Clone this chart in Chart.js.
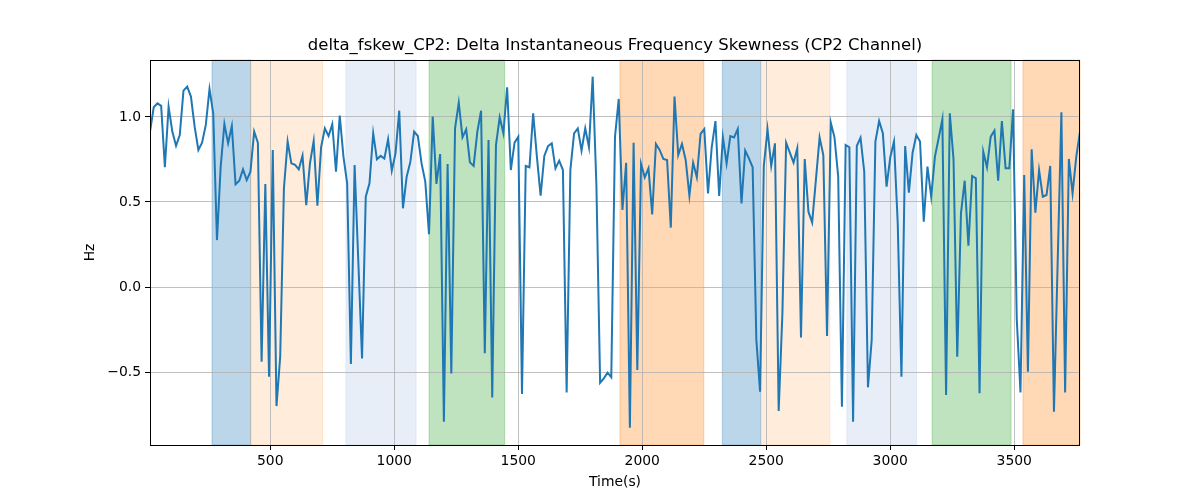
<!DOCTYPE html>
<html>
<head>
<meta charset="utf-8">
<title>delta_fskew_CP2</title>
<script src="https://cdn.jsdelivr.net/npm/chart.js@4.4.0/dist/chart.umd.min.js"></script>
<style>
  html, body { margin: 0; padding: 0; background: #fff; }
  #chartSkew { display: block; }
</style>
</head>
<body>
<canvas id="chartSkew" width="1200" height="500"></canvas>
<script>
// data ---------------------------------------------------------------------
// one sample every 15 s, first sample at 15 s
const sampleStart = 15;
const sampleStep = 15;

const skewValues = [
  0.914, 1.057, 1.08, 1.065, 0.704, 1.06, 0.914, 0.83, 0.894, 1.155, 1.178, 1.12, 0.943, 0.806, 0.849, 0.953,
  1.165, 1.02, 0.276, 0.708, 0.959, 0.845, 0.947, 0.604, 0.625, 0.692, 0.629, 0.678, 0.914, 0.849, -0.439, 0.606,
  -0.527, 0.806, -0.7, -0.41, 0.58, 0.855, 0.727, 0.718, 0.692, 0.773, 0.482, 0.727, 0.859, 0.478, 0.822, 0.933,
  0.888, 0.957, 0.678, 1.008, 0.767, 0.61, -0.453, 0.718, 0.15, -0.42, 0.531, 0.61, 0.904, 0.751, 0.771,
  0.755, 0.869, 0.684, 0.786, 1.037, 0.463, 0.649, 0.737, 0.914, 0.888, 0.727, 0.62, 0.31, 1.002, 0.606, 0.782,
  -0.792, 0.724, -0.508, 0.933, 1.084, 0.88, 0.927, 0.733, 0.712, 0.914, 1.037, -0.39, 0.865, -0.649, 0.835, 0.998,
  0.904, 1.175, 0.688, 0.849, 0.884, -0.629, 0.712, 0.704, 1.022, 0.767, 0.537, 0.771, 0.829, 0.845, 0.698, 0.743,
  0.688, -0.62, 0.688, 0.904, 0.933, 0.802, 0.933, 0.822, 1.237, 0.6, -0.563, -0.537, -0.504, -0.531, 0.884,
  1.106, 0.453, 0.731, -0.827, 0.849, -0.488, 0.724, 0.645, 0.698, 0.427, 0.841, 0.806, 0.753, 0.747, 0.349, 1.12,
  0.776, 0.841, 0.747, 0.537, 0.731, 0.645, 0.9, 0.929, 0.551, 0.822, 0.976, 0.535, 0.88, 0.727, 0.888,
  0.88, 0.929, 0.492, 0.802, 0.757, 0.704, -0.312, -0.616, 0.712, 0.927, 0.712, 0.845, -0.729, -0.155, 0.849, 0.79,
  0.731, 0.816, -0.296, 0.753, 0.443, 0.38, 0.629, 0.88, 0.776, -0.288, 0.967, 0.88, 0.649, -0.704, 0.835,
  0.822, -0.792, 0.829, 0.878, 0.678, -0.59, -0.312, 0.855, 0.976, 0.904, 0.59, 0.763, 0.855, 0.375, -0.527, 0.829,
  0.555, 0.79, 0.894, 0.855, 0.384, 0.708, 0.531, 0.767, 0.875, 0.986, -0.635, 1.022, 0.751, -0.41, 0.433,
  0.625, 0.243, 0.653, 0.639, -0.625, 0.796, 0.704, 0.884, 0.92, 0.625, 0.976, 0.698, 0.698, 1.045, -0.19, -0.62,
  0.659, -0.498, 0.81, 0.437, 0.688, 0.531, 0.541, 0.712, -0.733, 0.15, 1.027, -0.62, 0.753, 0.551, 0.767, 0.914
];

// shaded time windows
const bandStart = [265, 421, 805, 1140, 1910, 2323, 2480, 2825, 3169, 3535];
const bandEnd   = [421, 711, 1088, 1445, 2248, 2477, 2756, 3106, 3487, 3765];
const bandColor = [
  'rgba(31, 119, 180, 0.3)',
  'rgba(255, 127, 14, 0.15)',
  'rgba(174, 199, 232, 0.3)',
  'rgba(44, 160, 44, 0.3)',
  'rgba(255, 127, 14, 0.3)',
  'rgba(31, 119, 180, 0.3)',
  'rgba(255, 127, 14, 0.15)',
  'rgba(174, 199, 232, 0.3)',
  'rgba(44, 160, 44, 0.3)',
  'rgba(255, 127, 14, 0.3)'
];

const xTicks = [500, 1000, 1500, 2000, 2500, 3000, 3500];
const yTicks = [-0.5, 0.0, 0.5, 1.0];
const xRange = [15, 3765];
const yRange = [-0.929, 1.335];

const titleText = 'delta_fskew_CP2: Delta Instantaneous Frequency Skewness (CP2 Channel)';

// chart ---------------------------------------------------------------------
const fontFamily = '"DejaVu Sans", sans-serif';

const points = skewValues.map(function (v, i) {
  return { x: sampleStart + i * sampleStep, y: v };
});

// vertical spans, drawn before the grid
const bandsPlugin = {
  id: 'bands',
  beforeDraw(chart) {
    const ctx = chart.ctx;
    const area = chart.chartArea;
    const x = chart.scales.x;
    ctx.save();
    for (let i = 0; i < bandStart.length; i++) {
      const x1 = x.getPixelForValue(bandStart[i]);
      const x2 = Math.min(x.getPixelForValue(bandEnd[i]), area.right);
      ctx.fillStyle = bandColor[i];
      ctx.fillRect(x1, area.top, x2 - x1, area.bottom - area.top);
      ctx.strokeStyle = bandColor[i];
      ctx.lineWidth = 1;
      ctx.strokeRect(x1, area.top, x2 - x1, area.bottom - area.top);
    }
    ctx.restore();
  },
  afterDraw(chart) {
    const ctx = chart.ctx;
    const area = chart.chartArea;
    ctx.save();
    // frame on four sides
    ctx.strokeStyle = '#000';
    ctx.lineWidth = 1;
    ctx.strokeRect(area.left + 0.5, area.top + 0.5, area.right - area.left - 1, area.bottom - area.top);
    // title over the axes
    ctx.fillStyle = '#000';
    ctx.font = '16.5px ' + fontFamily;
    ctx.textAlign = 'center';
    ctx.textBaseline = 'middle';
    ctx.fillText(titleText, (area.left + area.right) / 2, 46);
    ctx.restore();
  }
};

const configSkew = {
  type: 'line',
  data: {
    datasets: [{
      label: 'delta_fskew_CP2',
      data: points,
      borderColor: '#1f77b4',
      borderWidth: 2,
      pointRadius: 0,
      tension: 0,
      fill: false
    }]
  },
  options: {
    responsive: false,
    animation: false,
    devicePixelRatio: 1,
    parsing: false,
    layout: { padding: { left: 82, right: 120, top: 60, bottom: 0 } },
    plugins: {
      legend: { display: false },
      tooltip: { enabled: false },
      title: { display: false }
    },
    scales: {
      x: {
        type: 'linear',
        min: xRange[0],
        max: xRange[1],
        afterBuildTicks(scale) { scale.ticks = xTicks.map(v => ({ value: v })); },
        afterFit(scale) { scale.height = 55; },
        border: { display: false },
        grid: { color: '#b0b0b0', lineWidth: 0.8, tickColor: '#000', tickLength: 5, tickWidth: 1 },
        ticks: {
          color: '#000',
          padding: 3,
          maxRotation: 0,
          font: { family: fontFamily, size: 13.9 },
          callback: v => String(v)
        },
        title: {
          display: true,
          text: 'Time(s)',
          color: '#000',
          font: { family: fontFamily, size: 13.9 },
          padding: { top: 0, bottom: 9 }
        }
      },
      y: {
        type: 'linear',
        min: yRange[0],
        max: yRange[1],
        afterBuildTicks(scale) { scale.ticks = yTicks.map(v => ({ value: v })); },
        afterFit(scale) { scale.width = 68; },
        border: { display: false },
        grid: { color: '#b0b0b0', lineWidth: 0.8, tickColor: '#000', tickLength: 5, tickWidth: 1 },
        ticks: {
          color: '#000',
          padding: 4,
          font: { family: fontFamily, size: 13.9 },
          callback: v => v.toFixed(1).replace('-', '\u2212')
        },
        title: {
          display: true,
          text: 'Hz',
          color: '#000',
          font: { family: fontFamily, size: 13.9 },
          padding: 0
        }
      }
    }
  },
  plugins: [bandsPlugin]
};

const myChartSkew = new Chart(document.getElementById('chartSkew'), configSkew);
</script>
</body>
</html>
